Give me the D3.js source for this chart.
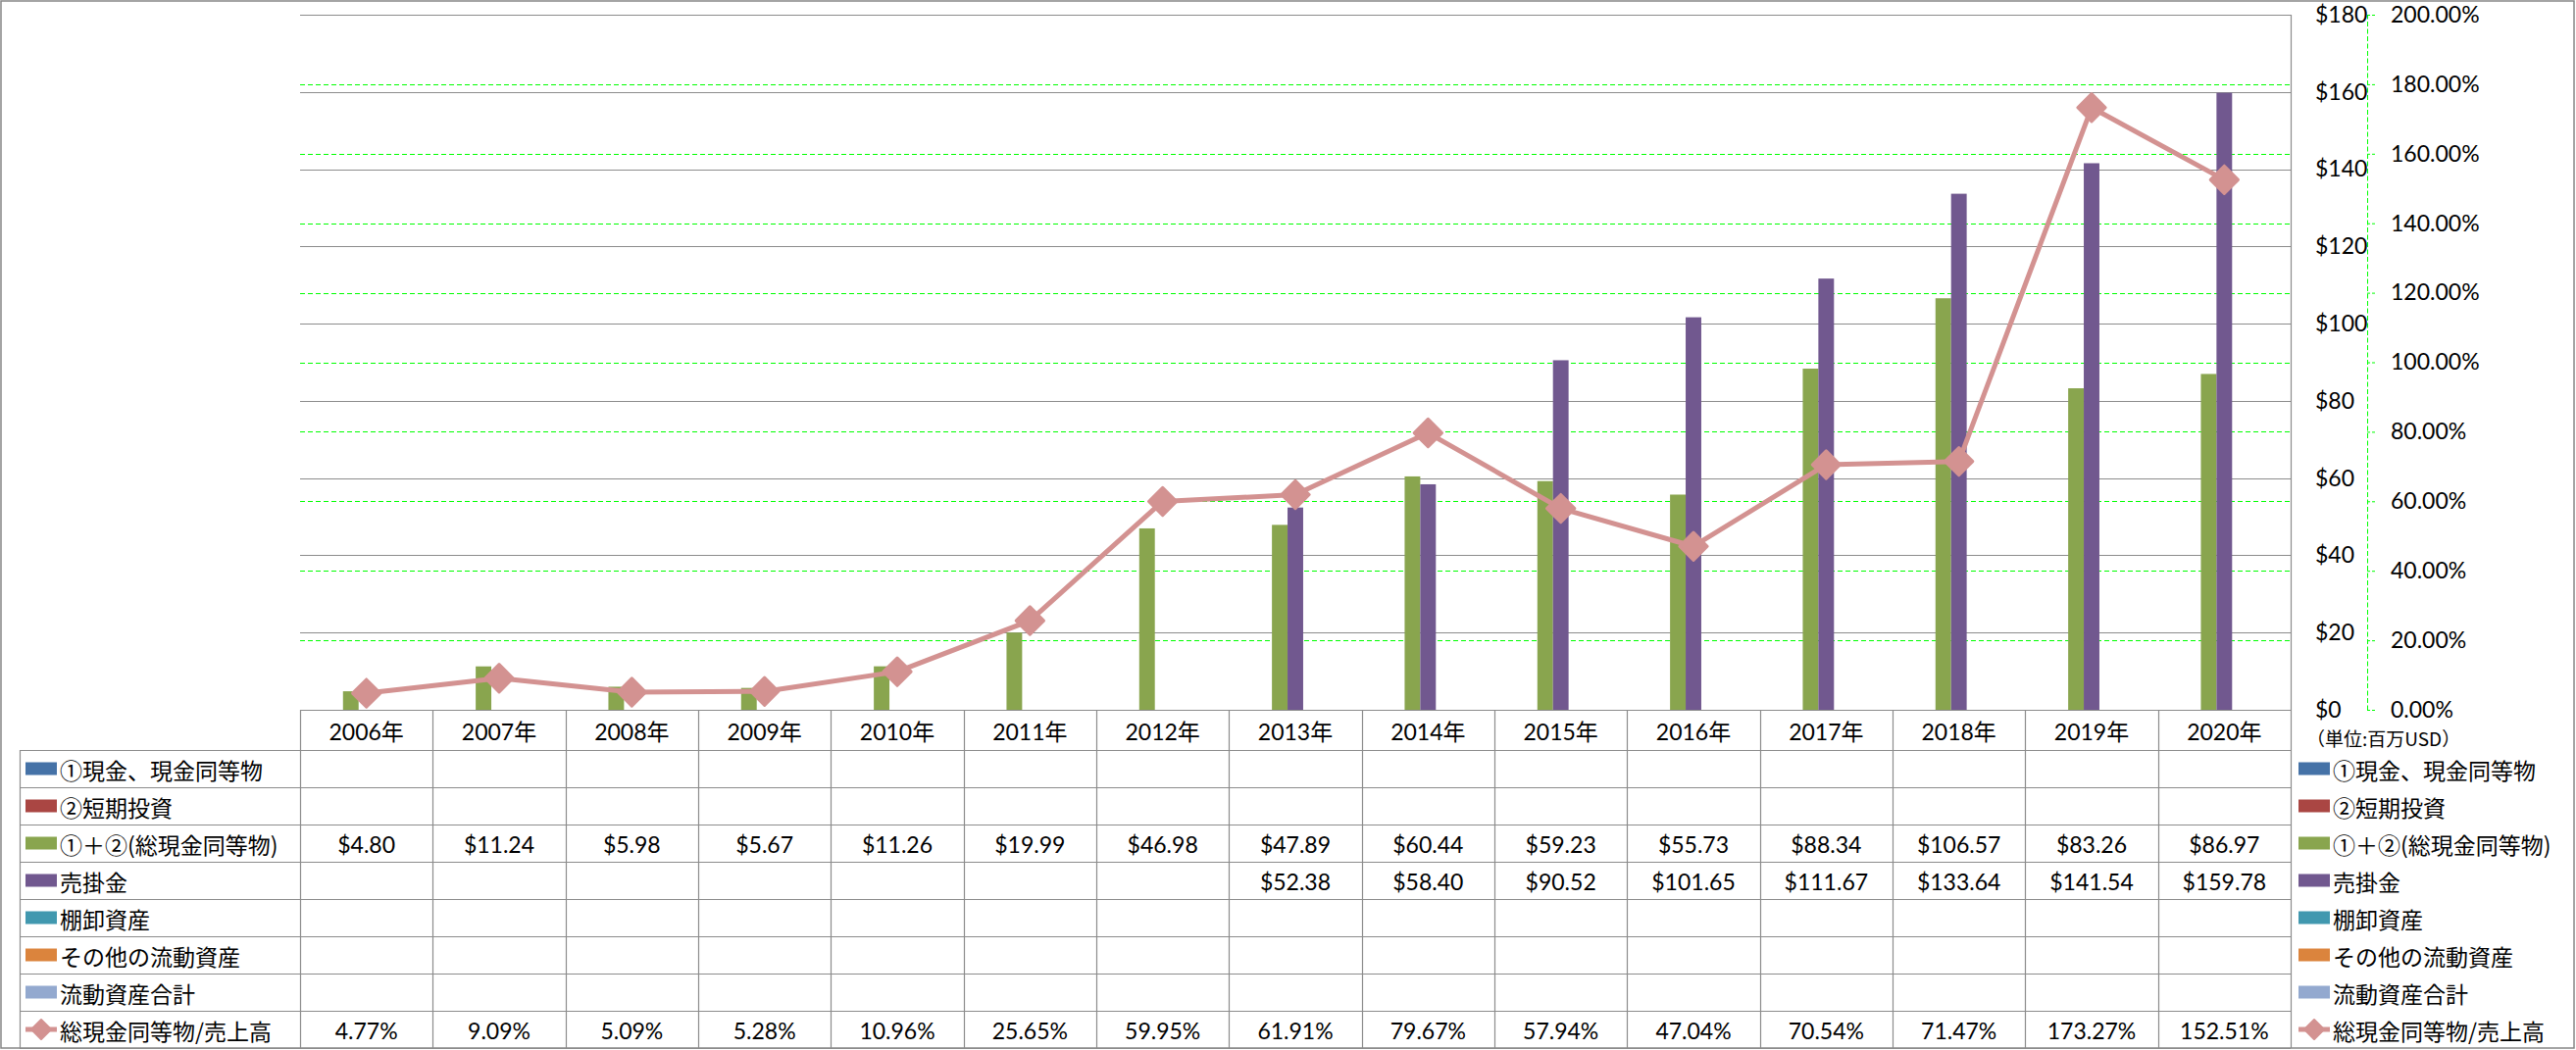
<!DOCTYPE html>
<html>
<head>
<meta charset="utf-8">
<script src="https://cdn.jsdelivr.net/npm/d3@7"></script>
<style>
  html, body { margin: 0; padding: 0; background: #fff; }
  svg { display: block; }
</style>
</head>
<body>
<script>
// ---------- data ----------
const years = ["2006年","2007年","2008年","2009年","2010年","2011年","2012年","2013年","2014年","2015年","2016年","2017年","2018年","2019年","2020年"];
const seriesNames = ["①現金、現金同等物","②短期投資","①＋②(総現金同等物)","売掛金","棚卸資産","その他の流動資産","流動資産合計"];
const seriesColors = ["#4572A7","#AA4643","#89A54E","#71588F","#4198AF","#DB843D","#93A9CF"];
const cashValues = [null,null,null,null,null,null,null,null,null,null,null,null,null,null,null];
const shortInvValues = [null,null,null,null,null,null,null,null,null,null,null,null,null,null,null];
const totalCashValues = [4.80,11.24,5.98,5.67,11.26,19.99,46.98,47.89,60.44,59.23,55.73,88.34,106.57,83.26,86.97];
const receivableValues = [null,null,null,null,null,null,null,52.38,58.40,90.52,101.65,111.67,133.64,141.54,159.78];
const inventoryValues = [null,null,null,null,null,null,null,null,null,null,null,null,null,null,null];
const otherValues = [null,null,null,null,null,null,null,null,null,null,null,null,null,null,null];
const currentTotalValues = [null,null,null,null,null,null,null,null,null,null,null,null,null,null,null];
const ratioName = "総現金同等物/売上高";
const ratioValues = [4.77,9.09,5.09,5.28,10.96,25.65,59.95,61.91,79.67,57.94,47.04,70.54,71.47,173.27,152.51];
const ratioColor = "#D39291";
const leftTicks = [0,20,40,60,80,100,120,140,160,180];
const pctTicks = [0,0.2,0.4,0.6,0.8,1.0,1.2,1.4,1.6,1.8,2.0];
const unitLabel = "（単位:百万USD）";

const barSeries = [cashValues, shortInvValues, totalCashValues, receivableValues, inventoryValues, otherValues, currentTotalValues];

// ---------- layout ----------
const W = 2627, H = 1071;
const plotL = 306, plotR = 2336, plotT = 15, plotB = 724;
const rowH = 38, headerB = 765;
const tableL = 20;
const latin = "Lato, 'Noto Sans CJK JP', sans-serif";
const cjk = "'Noto Sans CJK JP', sans-serif";
const latinSize = 23;

const svg = d3.select("body").append("svg").attr("width", W).attr("height", H);

// outer border
svg.append("rect").attr("x", 1).attr("y", 1).attr("width", W - 3).attr("height", H - 3)
  .attr("fill", "#fff").attr("stroke", "#868686").attr("stroke-width", 1.5);

const x = d3.scaleBand().domain(years).range([plotL, plotR]).padding(0);
const xs = d3.scaleBand().domain(d3.range(7)).range([0, x.bandwidth()]).paddingInner(0).paddingOuter(0.75);
const y = d3.scaleLinear().domain([0, 180]).range([plotB, plotT]);
const y2 = d3.scaleLinear().domain([0, 2]).range([plotB, plotT]);

// gridlines: green dashed (percent)
svg.append("g").selectAll("line").data(pctTicks).join("line")
  .attr("x1", plotL).attr("x2", plotR)
  .attr("y1", d => Math.round(y2(d)) + 0.5).attr("y2", d => Math.round(y2(d)) + 0.5)
  .attr("stroke", "#00FF00").attr("stroke-width", 1).attr("stroke-dasharray", "5,3");
// gridlines: gray solid ($)
svg.append("g").selectAll("line").data(leftTicks).join("line")
  .attr("x1", plotL).attr("x2", plotR)
  .attr("y1", d => Math.round(y(d)) + 0.5).attr("y2", d => Math.round(y(d)) + 0.5)
  .attr("stroke", "#8C8C8C").attr("stroke-width", 1.2);
// plot right border
svg.append("line").attr("x1", plotR + 0.5).attr("x2", plotR + 0.5).attr("y1", plotT).attr("y2", plotB)
  .attr("stroke", "#8C8C8C").attr("stroke-width", 1.2);

// bars
barSeries.forEach((vals, si) => {
  svg.append("g").selectAll("rect").data(vals.map((v, i) => ({ v, i })).filter(d => d.v != null)).join("rect")
    .attr("x", d => x(years[d.i]) + xs(si))
    .attr("width", xs.bandwidth())
    .attr("y", d => y(d.v))
    .attr("height", d => plotB - y(d.v))
    .attr("fill", seriesColors[si]);
});

// ratio line
const line = d3.line().x((d, i) => x(years[i]) + x.bandwidth() / 2).y(d => y2(d / 100));
svg.append("path").datum(ratioValues).attr("d", line)
  .attr("fill", "none").attr("stroke", ratioColor).attr("stroke-width", 5).attr("stroke-linejoin", "round");
const diamond = d3.symbol().type(d3.symbolSquare).size(400);
svg.append("g").selectAll("path").data(ratioValues).join("path")
  .attr("d", diamond)
  .attr("transform", (d, i) => `translate(${x(years[i]) + x.bandwidth() / 2},${y2(d / 100)}) rotate(45)`)
  .attr("fill", ratioColor).attr("stroke", ratioColor).attr("stroke-width", 3).attr("stroke-linejoin", "round");

// $ axis (right side of plot)
const axL = svg.append("g").attr("transform", `translate(${plotR},0)`)
  .call(d3.axisRight(y).tickValues(leftTicks).tickSize(0).tickPadding(25).tickFormat(d => "$" + d));
axL.select(".domain").remove();
axL.selectAll("text").attr("font-family", latin).attr("font-size", latinSize).attr("fill", "#000");

// % axis
const axR = svg.append("g").attr("transform", `translate(2414,0)`)
  .call(d3.axisRight(y2).tickValues(pctTicks).tickSizeInner(9).tickSizeOuter(0).tickPadding(15).tickFormat(d3.format(".2%")));
axR.select(".domain").attr("stroke", "#00FF00").attr("stroke-dasharray", "5,2.5");
axR.selectAll(".tick line").attr("stroke", "#00FF00").attr("stroke-dasharray", "3,2");
axR.selectAll("text").attr("font-family", latin).attr("font-size", latinSize).attr("fill", "#000");

// unit label
svg.append("text").attr("x", 2352).attr("y", 752).attr("dominant-baseline", "central")
  .attr("font-family", cjk).attr("font-size", 19).attr("fill", "#000").text(unitLabel);

// ---------- data table ----------
const tbl = svg.append("g");
const border = "#8C8C8C";
tbl.append("line").attr("x1", plotL).attr("x2", plotR).attr("y1", plotB + 0.5).attr("y2", plotB + 0.5).attr("stroke", border).attr("stroke-width", 1.2);
const rowYs = d3.range(9).map(i => headerB + i * rowH);
tbl.selectAll("line.h").data(rowYs).join("line").attr("class", "h")
  .attr("x1", tableL).attr("x2", plotR).attr("y1", d => d + 0.5).attr("y2", d => d + 0.5)
  .attr("stroke", border).attr("stroke-width", 1.2);
const colXs = years.map(yr => x(yr)).concat([plotR]);
tbl.selectAll("line.v").data(colXs).join("line").attr("class", "v")
  .attr("x1", d => Math.round(d) + 0.5).attr("x2", d => Math.round(d) + 0.5)
  .attr("y1", plotB).attr("y2", headerB + 8 * rowH)
  .attr("stroke", border).attr("stroke-width", 1.2);
tbl.append("line").attr("x1", tableL + 0.5).attr("x2", tableL + 0.5).attr("y1", headerB).attr("y2", headerB + 8 * rowH)
  .attr("stroke", border).attr("stroke-width", 1.2);

// header text
tbl.selectAll("text.yr").data(years).join("text").attr("class", "yr")
  .attr("x", d => x(d) + x.bandwidth() / 2).attr("y", (plotB + headerB) / 2 + 1)
  .attr("text-anchor", "middle").attr("dominant-baseline", "central")
  .attr("font-family", latin).attr("font-size", latinSize).attr("fill", "#000").text(d => d);

// row labels + values
const allRows = seriesNames.map((n, i) => ({ name: n, color: seriesColors[i], vals: barSeries[i], fmt: v => "$" + v.toFixed(2), line: false }))
  .concat([{ name: ratioName, color: ratioColor, vals: ratioValues, fmt: v => v.toFixed(2) + "%", line: true }]);

function legendKey(g, r, kx, cy) {
  if (r.line) {
    g.append("line").attr("x1", kx).attr("x2", kx + 32).attr("y1", cy).attr("y2", cy)
      .attr("stroke", r.color).attr("stroke-width", 5);
    g.append("path").attr("d", d3.symbol().type(d3.symbolSquare).size(200))
      .attr("transform", `translate(${kx + 16},${cy}) rotate(45)`)
      .attr("fill", r.color).attr("stroke", r.color).attr("stroke-width", 2).attr("stroke-linejoin", "round");
  } else {
    g.append("rect").attr("x", kx).attr("y", cy - 6.5).attr("width", 32).attr("height", 13).attr("fill", r.color);
  }
}

allRows.forEach((r, ri) => {
  const cy = headerB + ri * rowH + rowH / 2;
  legendKey(tbl, r, 26, cy);
  tbl.append("text").attr("x", 61).attr("y", cy + 1).attr("dominant-baseline", "central")
    .attr("font-family", cjk).attr("font-size", 23).attr("fill", "#000").text(r.name);
  tbl.append("g").selectAll("text").data(r.vals.map((v, i) => ({ v, i })).filter(d => d.v != null)).join("text")
    .attr("x", d => x(years[d.i]) + x.bandwidth() / 2).attr("y", cy + 1)
    .attr("text-anchor", "middle").attr("dominant-baseline", "central")
    .attr("font-family", latin).attr("font-size", latinSize).attr("fill", "#000").text(d => r.fmt(d.v));
  legendKey(svg, r, 2344, cy);
  svg.append("text").attr("x", 2379).attr("y", cy + 1).attr("dominant-baseline", "central")
    .attr("font-family", cjk).attr("font-size", 23).attr("fill", "#000").text(r.name);
});
</script>
</body>
</html>
